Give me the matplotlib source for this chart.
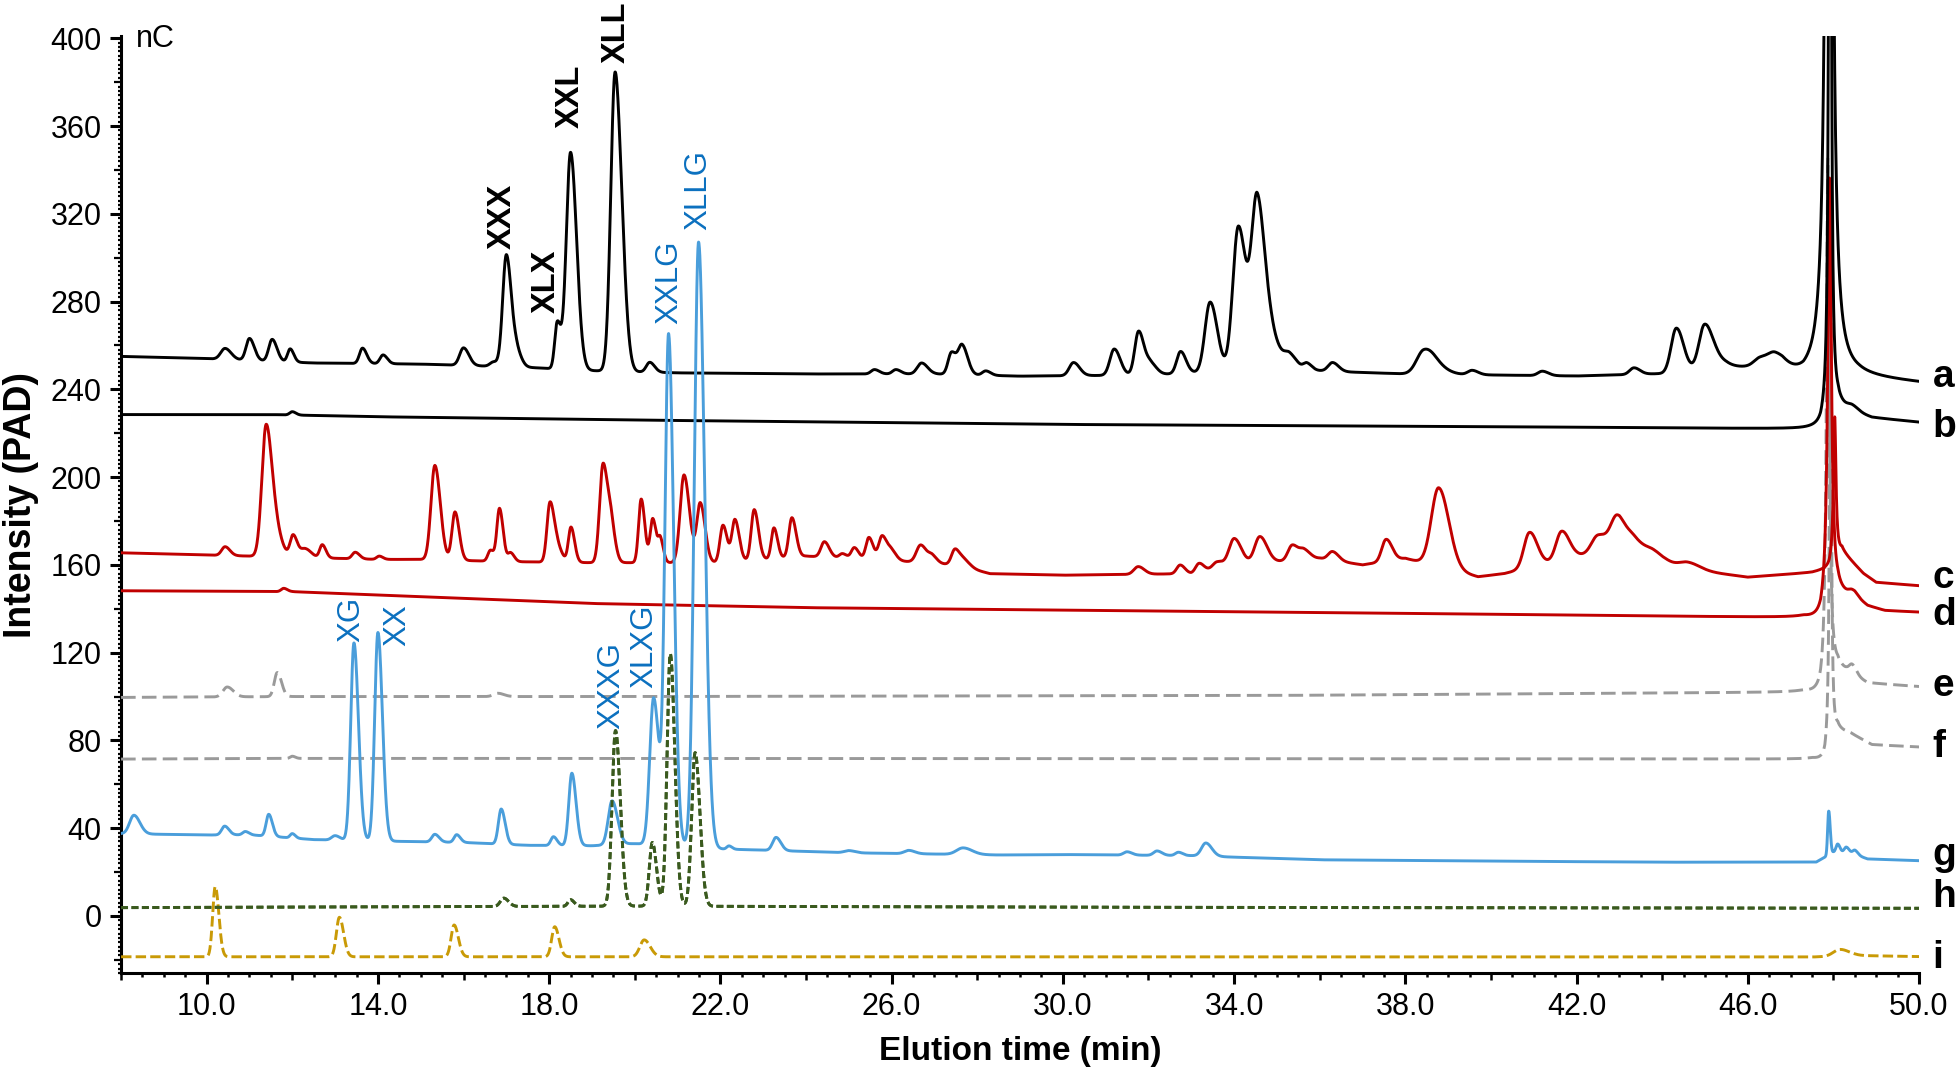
import numpy as np
import matplotlib
matplotlib.use("Agg")
import matplotlib.pyplot as plt
from matplotlib.ticker import FixedLocator, MultipleLocator, FormatStrFormatter

plt.rcParams['font.family'] = ['Liberation Sans', 'DejaVu Sans']
plt.rcParams['lines.scale_dashes'] = False

# ---------------- data ----------------
# each trace: baseline knots (time, nC), gaussian peaks (time, height, width), system peak (time, height, width)
A_BASE_T = [8, 10, 12.5, 15, 17.5, 19, 21, 24, 27, 29, 32, 33, 35.5, 36.5, 38, 40, 42, 44, 45.5, 46.8, 47.3, 48.6, 50]
A_BASE_Y = [255, 254, 252, 251.5, 250, 248.5, 247.5, 247, 247, 246, 246.5, 247.5, 249, 248, 247, 246.5, 246, 247, 250, 249, 245, 245.5, 243]
A_PK_T = [10.43, 11.0, 11.53, 11.95, 13.64, 14.12, 16.0, 16.7, 17.0, 17.25, 18.19, 18.5, 19.54, 19.75, 20.35,
          25.6, 26.1, 26.7, 27.4, 27.65, 28.2, 30.25, 31.2, 31.77, 32.05, 32.75, 33.44, 34.1, 34.54, 34.9, 35.3,
          35.7, 36.3, 38.43, 38.7, 39.56, 41.2, 43.34, 44.33, 44.99, 45.3, 46.3, 46.64]
A_PK_H = [5, 10, 10, 6, 7, 4, 8, 2, 51, 6, 21, 99, 136, 12, 4.5,
          2, 2, 5, 10, 13, 2, 6, 12, 20, 5, 10, 32, 66, 77, 12, 6,
          3, 4, 10, 3, 2, 2, 3, 20, 20, 3, 4, 5]
A_PK_W = [0.1, 0.08, 0.08, 0.06, 0.07, 0.07, 0.09, 0.08, 0.085, 0.08, 0.06, 0.1, 0.1, 0.08, 0.08,
          0.08, 0.08, 0.1, 0.08, 0.09, 0.08, 0.1, 0.1, 0.09, 0.1, 0.09, 0.12, 0.13, 0.13, 0.15, 0.12,
          0.08, 0.1, 0.17, 0.2, 0.1, 0.1, 0.1, 0.12, 0.13, 0.15, 0.15, 0.15]
A_SYS = (47.9, 800, 0.06)

B_BASE_T = [8, 11.5, 14, 20, 30, 40, 47.3, 47.7, 48.1, 48.4, 48.9, 50]
B_BASE_Y = [228.5, 228.5, 227.5, 226, 224, 223, 222, 222, 232, 230, 227, 225]
B_PK_T = [12.0, 48.44]
B_PK_H = [1.5, 2]
B_PK_W = [0.06, 0.1]
B_SYS = (47.92, 600, 0.025)

C_BASE_T = [8, 10, 12, 14, 15, 17, 19, 22, 24, 26, 27.5, 28.3, 30, 33, 34, 36, 37, 38, 39.7, 40.3,
            42, 43, 44, 45, 46, 47.5, 47.9, 48.2, 48.4, 48.7, 49, 50]
C_BASE_Y = [165.5, 164.5, 163.5, 162.5, 162.5, 161.5, 161, 161, 164, 162, 160, 156, 155.3, 156, 160, 163, 160, 163, 154.6, 156,
            164, 167, 160, 157, 154.4, 156.5, 158, 166, 162, 156, 152, 150.5]
C_PK_T = [10.43, 11.39, 11.65, 12.02, 12.3, 12.7, 13.47, 14.03, 15.33, 15.8, 16.63, 16.84, 17.1, 18.02, 18.2,
          18.51, 19.26, 19.45, 20.15, 20.42, 20.6, 21.15, 21.53, 22.06, 22.34, 22.79, 23.25, 23.67, 24.43,
          24.85, 25.13, 25.47, 25.78, 26.0, 26.68, 26.95, 27.48, 27.7, 31.76, 32.74, 33.18, 33.6, 34.0, 34.6,
          35.36, 35.64, 36.3, 37.55, 38.78, 40.9, 41.65, 42.5, 42.95, 43.35, 43.8, 44.6]
C_PK_H = [4, 60, 8, 10, 4, 6, 3, 1.5, 43, 22, 5, 24, 4, 27, 6,
          16, 45, 14, 29, 20, 10, 40, 27, 17, 19, 23, 14, 18, 7,
          2, 5, 10, 11, 4, 8, 3, 7, 3, 3.5, 4, 4, 3, 12, 12,
          7, 4, 4, 10, 36, 16, 13, 8, 15, 6, 5, 3]
C_PK_W = [0.08, 0.1, 0.1, 0.07, 0.1, 0.06, 0.07, 0.06, 0.09, 0.07, 0.06, 0.06, 0.06, 0.07, 0.08,
          0.06, 0.08, 0.07, 0.06, 0.06, 0.05, 0.09, 0.08, 0.07, 0.07, 0.07, 0.06, 0.07, 0.08,
          0.07, 0.07, 0.07, 0.08, 0.08, 0.1, 0.08, 0.08, 0.1, 0.1, 0.08, 0.08, 0.1, 0.12, 0.12,
          0.1, 0.1, 0.1, 0.1, 0.17, 0.13, 0.13, 0.15, 0.15, 0.15, 0.2, 0.2]
C_SYS = (48.03, 66, 0.035)

D_BASE_T = [8, 12, 19, 24, 35.5, 47.3, 47.7, 48.1, 48.5, 48.8, 49.2, 50]
D_BASE_Y = [148.2, 147.8, 142.4, 140.5, 138.4, 136, 134, 146, 145, 141, 139, 138.4]
D_PK_T = [11.8, 48.44]
D_PK_H = [1.5, 2]
D_PK_W = [0.06, 0.08]
D_SYS = (47.91, 196, 0.05)

E_BASE_T = [8, 12, 20, 35, 47.3, 47.7, 48.1, 48.3, 48.8, 50]
E_BASE_Y = [99.6, 100, 100, 100.5, 102, 100, 112, 111, 106, 104.5]
E_PK_T = [10.48, 11.65, 16.8, 48.44]
E_PK_H = [4.5, 11, 1.5, 4]
E_PK_W = [0.1, 0.07, 0.1, 0.07]
E_SYS = (47.87, 240, 0.04)

F_BASE_T = [8, 12, 20, 47.5, 47.8, 48.1, 48.4, 48.9, 50]
F_BASE_Y = [71.5, 71.8, 71.8, 71.5, 70, 84, 83, 78, 77]
F_PK_T = [12.0]
F_PK_H = [1]
F_PK_W = [0.05]
F_SYS = (47.93, 230, 0.025)

G_BASE_T = [8, 10, 11, 12.5, 14.5, 16, 17.5, 19, 20, 21.9, 23, 25, 28.5, 30, 33, 34, 36, 40, 44, 47.6, 48.0, 48.5, 48.8, 50]
G_BASE_Y = [37.5, 36.9, 37, 34.8, 34, 33.5, 32.2, 32, 33, 30.6, 30, 28.8, 27.8, 28, 27.5, 26.8, 25.6, 25, 24.5, 24.6, 29, 28, 26, 25.2]
G_PK_T = [8.3, 10.42, 10.9, 11.45, 12.0, 13.0, 13.44, 14.0, 15.33, 15.84, 16.88, 18.1, 18.53, 19.47, 20.44,
          20.79, 21.49, 22.2, 23.3, 25.0, 26.4, 27.67, 31.5, 32.2, 32.7, 33.34, 47.89, 48.1, 48.3, 48.5]
G_PK_H = [8.5, 4, 1.5, 10, 2, 2, 90, 95, 3.5, 3.5, 16, 4, 33, 20, 67,
          232, 276, 1.5, 6, 1, 1.5, 3, 1.5, 2, 1.5, 6, 20, 4, 3, 2]
G_PK_W = [0.1, 0.07, 0.06, 0.06, 0.05, 0.08, 0.075, 0.075, 0.07, 0.06, 0.065, 0.06, 0.07, 0.09, 0.09,
          0.085, 0.1, 0.05, 0.08, 0.1, 0.1, 0.15, 0.08, 0.08, 0.07, 0.1, 0.025, 0.04, 0.05, 0.05]

H_BASE_T = [8, 20, 30, 50]
H_BASE_Y = [3.8, 4.5, 4.0, 3.5]
H_PK_T = [16.94, 18.5, 19.55, 20.41, 20.83, 21.41]
H_PK_H = [3.8, 3, 80, 29, 115, 70]
H_PK_W = [0.08, 0.06, 0.08, 0.07, 0.075, 0.08]

I_BASE_T = [8, 30, 47.5, 48.5, 50]
I_BASE_Y = [-18.6, -18.6, -18.7, -18.0, -18.5]
I_PK_T = [10.2, 13.1, 15.78, 18.13, 20.22, 48.15]
I_PK_H = [32, 18, 14.5, 13.7, 7.7, 3]
I_PK_W = [0.06, 0.07, 0.07, 0.07, 0.1, 0.15]

TRACE_NAMES = ['a', 'b', 'c', 'd', 'e', 'f', 'g', 'h', 'i']
TRACE_LABEL_Y = [245.5, 223, 154, 137, 105, 77, 28, 8.5, -19]

BLACK_LABELS = ['XXX', 'XLX', 'XXL', 'XLL']
BLACK_LABEL_T = [16.9, 17.92, 18.5, 19.56]
BLACK_LABEL_Y = [304, 275, 359, 388.5]
BLUE_LABELS = ['XG', 'XX', 'XXXG', 'XLXG', 'XXLG', 'XLLG']
BLUE_LABEL_T = [13.38, 14.45, 19.45, 20.23, 20.8, 21.49]
BLUE_LABEL_Y = [125, 123, 85, 104, 270, 312.5]

TAIL = 1.4  # peak tailing factor (right-side width / left-side width)

# ---------------- build traces ----------------
t = np.linspace(8, 50, 8401)


def trace(bt, by, pt, ph, pw, sys=None):
    y = np.interp(t, bt, by)
    for c, h, w in zip(pt, ph, pw):
        s = np.where(t < c, w, w * TAIL)
        y = y + h * np.exp(-0.5 * ((t - c) / s) ** 2)
    if sys is not None:
        c, h, g = sys
        y = y + h / (1 + ((t - c) / g) ** 2)
    return y


traces = {
    'a': trace(A_BASE_T, A_BASE_Y, A_PK_T, A_PK_H, A_PK_W, A_SYS),
    'b': trace(B_BASE_T, B_BASE_Y, B_PK_T, B_PK_H, B_PK_W, B_SYS),
    'c': trace(C_BASE_T, C_BASE_Y, C_PK_T, C_PK_H, C_PK_W, C_SYS),
    'd': trace(D_BASE_T, D_BASE_Y, D_PK_T, D_PK_H, D_PK_W, D_SYS),
    'e': trace(E_BASE_T, E_BASE_Y, E_PK_T, E_PK_H, E_PK_W, E_SYS),
    'f': trace(F_BASE_T, F_BASE_Y, F_PK_T, F_PK_H, F_PK_W, F_SYS),
    'g': trace(G_BASE_T, G_BASE_Y, G_PK_T, G_PK_H, G_PK_W),
    'h': trace(H_BASE_T, H_BASE_Y, H_PK_T, H_PK_H, H_PK_W),
    'i': trace(I_BASE_T, I_BASE_Y, I_PK_T, I_PK_H, I_PK_W),
}

RED = '#C00000'
GRAY = '#9A9A9A'
LBLUE = '#4A9EDB'
GREEN = '#3A5A1E'
GOLD = '#C99A06'
TBLUE = '#0B70BF'

styles = {
    'a': dict(color='black', lw=2.1),
    'b': dict(color='black', lw=2.1),
    'c': dict(color=RED, lw=2.1),
    'd': dict(color=RED, lw=2.1),
    'e': dict(color=GRAY, lw=2.1, dashes=(10.5, 4.5)),
    'f': dict(color=GRAY, lw=2.1, dashes=(10.5, 4.5)),
    'g': dict(color=LBLUE, lw=2.1),
    'h': dict(color=GREEN, lw=2.1, dashes=(5.0, 2.5)),
    'i': dict(color=GOLD, lw=2.1, dashes=(7.5, 3.0)),
}

# ---------------- figure ----------------
fig = plt.figure(figsize=(19.59, 10.76), dpi=100)
ax = fig.add_axes([0.0618, 0.0957, 0.9178, 0.8708])

order = ['i', 'h', 'f', 'e', 'd', 'c', 'b', 'a', 'g']
for k in order:
    ax.plot(t, traces[k], **styles[k], zorder=3 if k != 'g' else 4)
ax.plot(t, traces['h'], **styles['h'], zorder=5)

ax.set_xlim(8, 50)
ax.set_ylim(-26, 401)

for sp in ['top', 'right']:
    ax.spines[sp].set_visible(False)
for sp in ['left', 'bottom']:
    ax.spines[sp].set_linewidth(2.2)

ax.xaxis.set_major_locator(FixedLocator(np.arange(10, 51, 4)))
ax.xaxis.set_major_formatter(FormatStrFormatter('%.1f'))
ax.xaxis.set_minor_locator(MultipleLocator(0.5))
ax.yaxis.set_major_locator(MultipleLocator(40))
ax.yaxis.set_minor_locator(MultipleLocator(2))
ax.tick_params(axis='both', which='major', direction='out', length=8, width=2.2, labelsize=22, pad=6)
ax.tick_params(axis='x', which='minor', direction='out', length=3, width=1.8)
ax.tick_params(axis='y', which='minor', direction='out', length=2, width=1.6)

ax.set_xlabel('Elution time (min)', fontsize=24, fontweight='bold', labelpad=10)
ax.set_ylabel('Intensity (PAD)', fontsize=27, fontweight='bold', labelpad=8)

ax.text(8.35, 399.5, 'nC', fontsize=22, va='center', ha='left')

for lab, xx, yy in zip(BLACK_LABELS, BLACK_LABEL_T, BLACK_LABEL_Y):
    ax.text(xx, yy, lab, rotation=90, ha='center', va='bottom', fontsize=23.5,
            fontweight='bold', color='black', clip_on=False, zorder=6)
for lab, xx, yy in zip(BLUE_LABELS, BLUE_LABEL_T, BLUE_LABEL_Y):
    ax.text(xx, yy, lab, rotation=90, ha='center', va='bottom', fontsize=22.5,
            color=TBLUE, clip_on=False, zorder=6)

for name, yy in zip(TRACE_NAMES, TRACE_LABEL_Y):
    ax.text(50.32, yy, name, fontsize=28, fontweight='bold', va='center', ha='left', clip_on=False)

fig.canvas.draw()
ylocs = ax.yaxis.get_minorticklocs()
for loc, tk in zip(ylocs, ax.yaxis.get_minor_ticks(len(ylocs))):
    if abs(loc / 20 - round(loc / 20)) < 1e-6:
        tk.tick1line.set_markersize(5)
xlocs = ax.xaxis.get_minorticklocs()
for loc, tk in zip(xlocs, ax.xaxis.get_minor_ticks(len(xlocs))):
    if abs(loc / 2 - round(loc / 2)) < 1e-6:
        tk.tick1line.set_markersize(5)

fig.savefig('out.png', dpi=100)
